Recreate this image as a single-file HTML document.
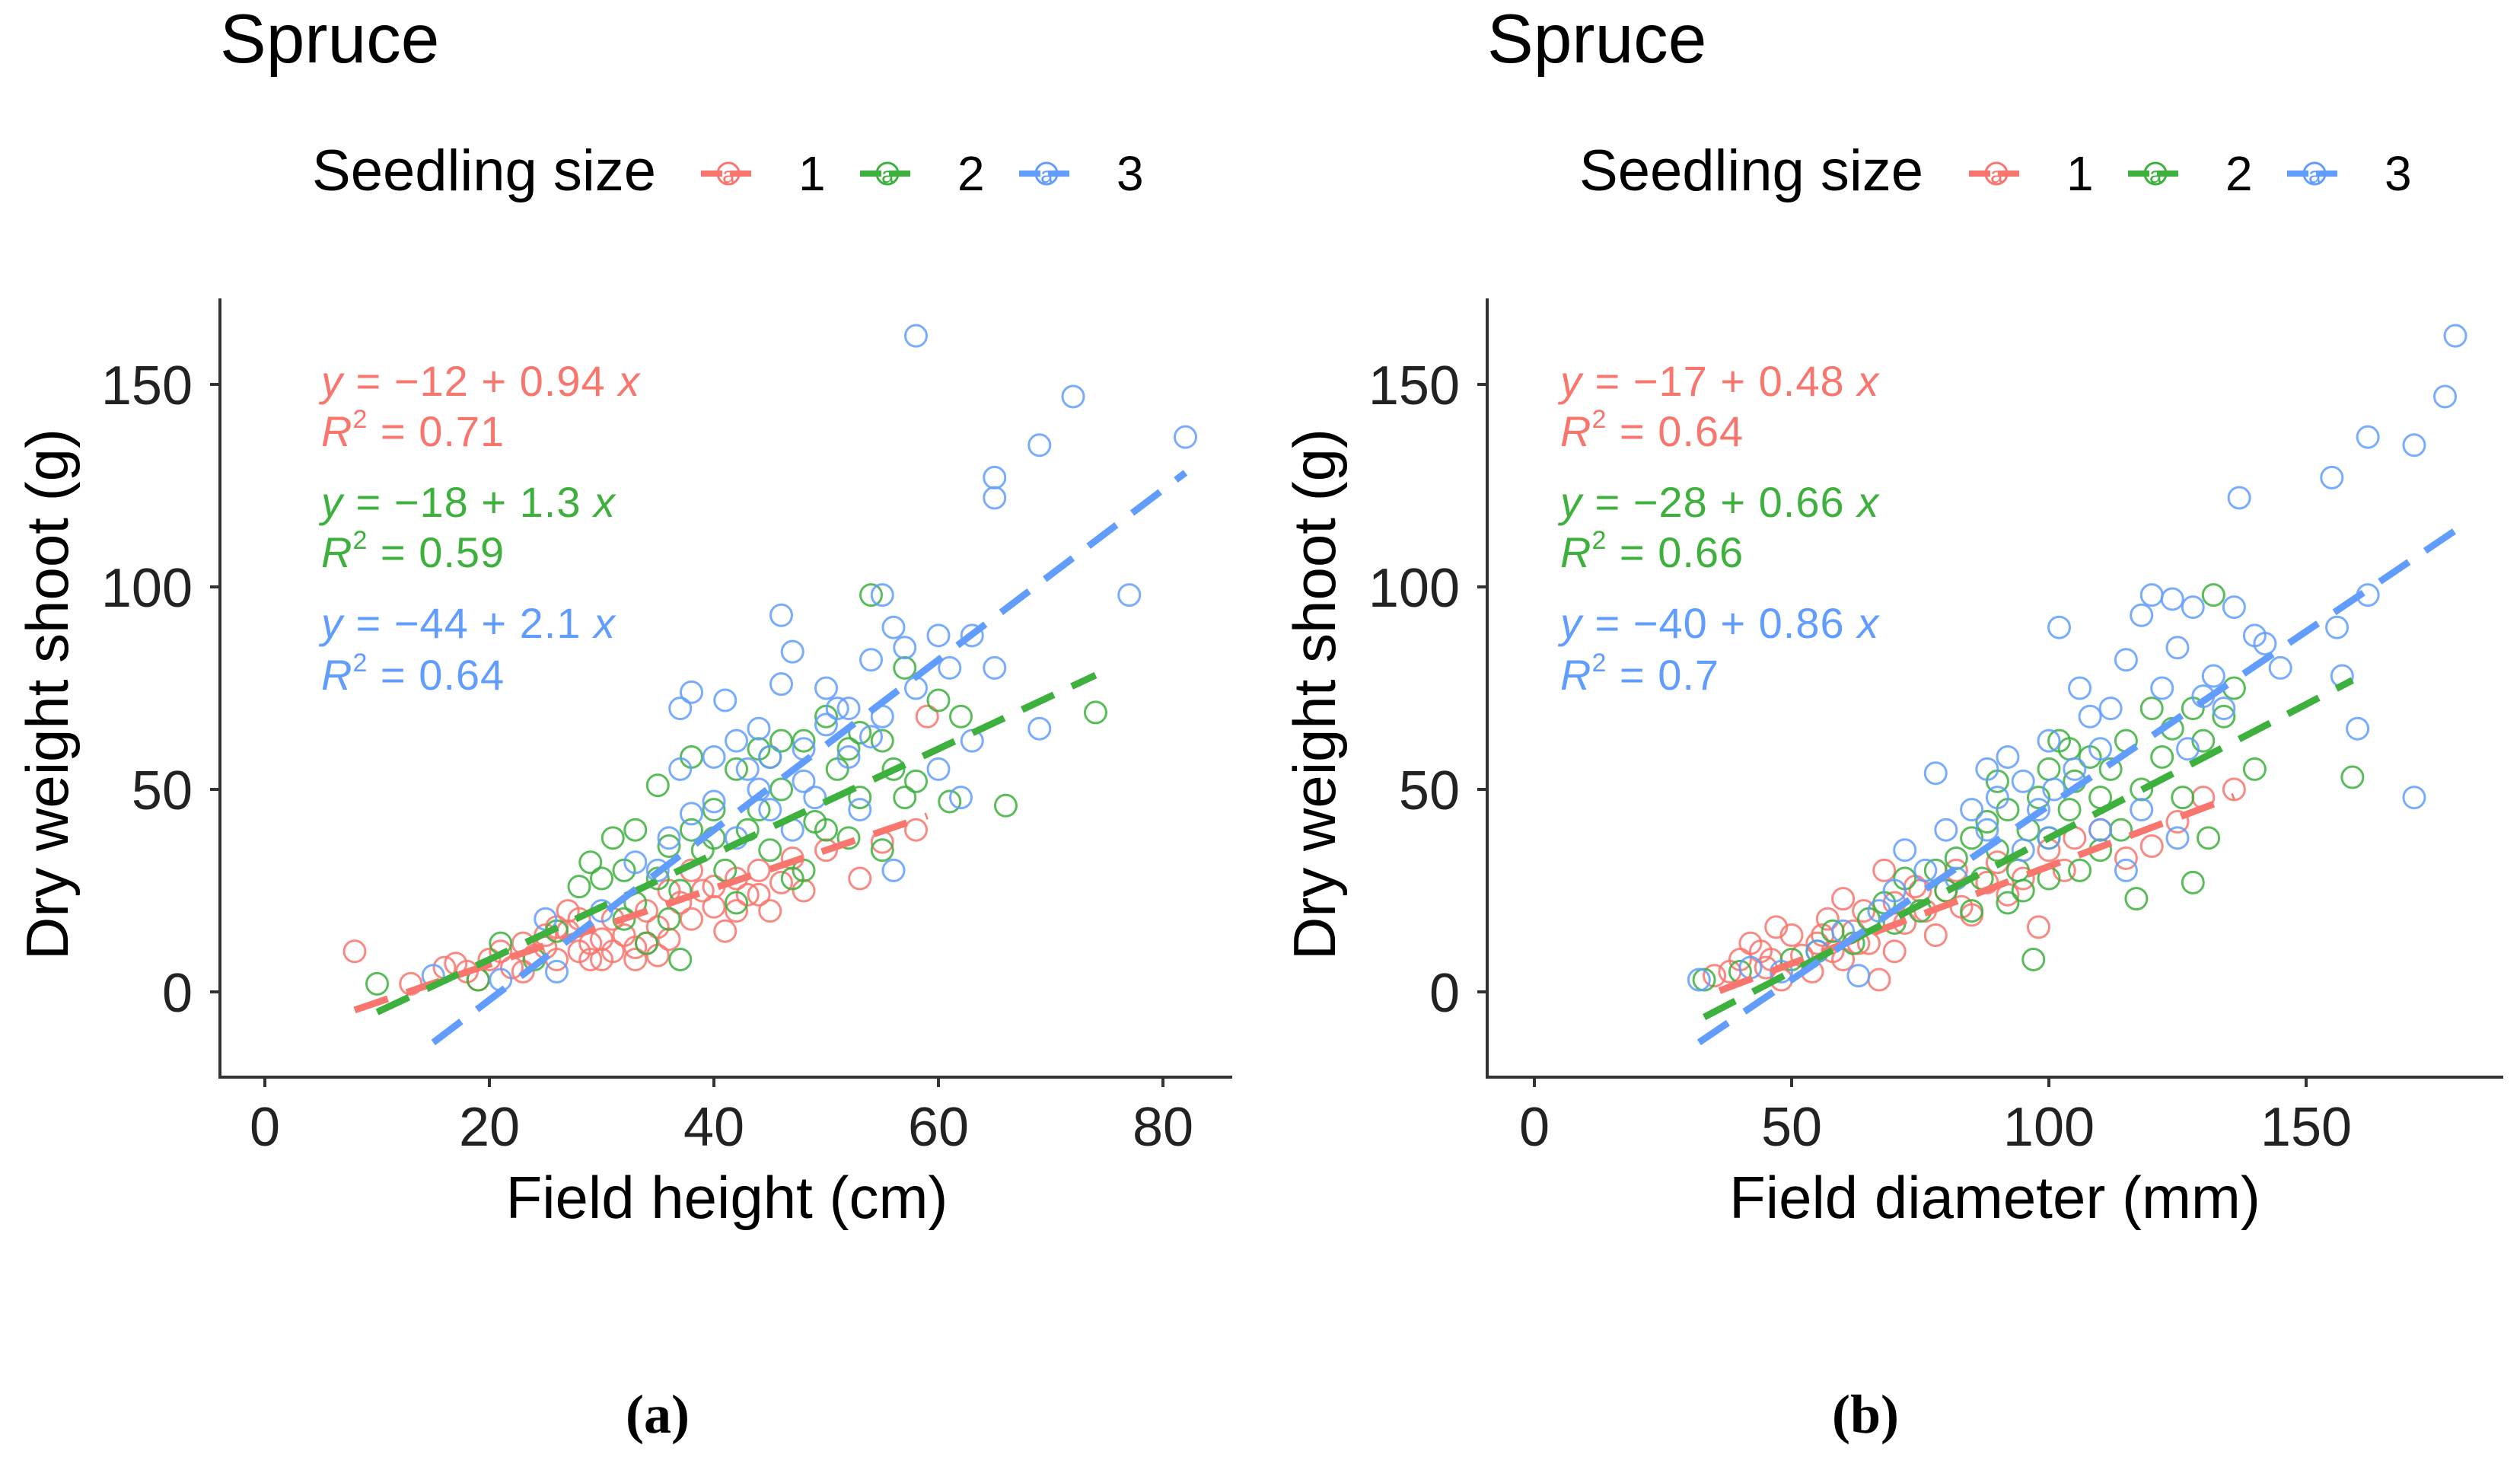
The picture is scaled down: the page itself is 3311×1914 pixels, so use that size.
<!DOCTYPE html>
<html><head><meta charset="utf-8"><style>
html,body{margin:0;padding:0;background:#fff;}
svg{display:block;font-family:"Liberation Sans",sans-serif;}
</style></head><body>
<svg id="chart" width="3311" height="1914" viewBox="0 0 3311 1914" xmlns="http://www.w3.org/2000/svg"></svg>
<script>
// Panel A data (field height cm vs dry weight g)
const aRedX=[8,13,16,17,18,19,20,21,22,23,24,25,26,27,28,29,30,31,32,33,34,35,36,37,38,39,40,41,42,43,44,45,46,47,48,50,53,55,58,59,33,29,31,25,27,36,38,42,44,30,34,26,23,28,40,35];
const aRedY=[10,2,6,7,5,3,8,10,6,12,9,14,8,15,10,12,8,18,14,11,20,16,13,22,18,25,21,15,28,24,30,20,27,33,25,35,28,37,40,68,8,8,10,11,20,25,30,20,24,13,12,16,5,18,26,9];
const aGreenX=[10,19,21,24,28,29,30,31,32,33,34,35,35,36,37,37,38,38,40,41,42,42,43,44,45,46,47,48,49,50,51,52,53,54,55,55,56,57,57,58,60,61,62,66,74,44,39,46,50,52,32,36,48,40,26,33,45,53];
const aGreenY=[2,3,12,8,26,32,28,38,30,22,12,28,51,36,8,25,40,58,45,30,22,55,40,60,35,50,28,62,42,68,55,38,48,98,35,62,55,80,48,52,72,47,68,46,69,45,35,62,40,60,18,18,30,38,15,40,58,64];
const aBlueX=[15,21,25,26,30,33,36,37,37,38,40,41,42,43,44,44,45,46,46,47,48,49,50,50,51,52,53,54,55,56,56,57,58,58,60,61,62,63,63,65,65,65,69,69,72,77,82,42,45,48,40,52,54,47,38,35,55,60];
const aBlueY=[4,3,18,5,20,32,38,55,70,74,47,72,62,55,50,65,58,93,76,84,60,48,75,66,70,58,45,63,98,30,90,85,162,75,88,80,48,88,62,127,122,80,135,65,147,98,137,38,45,52,58,70,82,40,44,30,68,55];
// Panel B data (field diameter mm vs dry weight g)
const bRedX=[35,38,40,42,44,45,47,48,50,52,54,55,57,58,60,62,64,65,67,68,70,72,74,76,78,80,82,85,88,90,92,95,98,100,103,105,110,115,120,125,130,136,46,56,63,70,75,83,60];
const bRedY=[4,5,8,12,10,6,16,3,14,9,5,12,18,10,23,15,20,12,3,30,22,17,26,20,14,25,30,19,27,32,24,28,16,35,30,38,40,33,36,42,48,50,8,14,12,10,25,21,8];
const bGreenX=[33,40,50,55,58,62,65,68,70,72,75,78,80,82,85,87,88,90,92,94,96,97,98,100,100,102,104,105,106,108,110,112,114,115,117,118,120,122,124,126,128,128,130,131,132,134,136,140,159,85,92,95,100,110,104,90];
const bGreenY=[3,5,8,10,15,12,18,22,17,28,20,30,25,33,38,28,42,35,45,30,40,8,48,55,38,62,45,52,30,58,48,55,40,62,23,50,70,58,65,48,27,70,62,38,98,68,75,55,53,20,22,25,28,35,60,52];
const bBlueX=[32,42,48,55,60,63,67,70,72,76,78,80,82,85,88,90,92,95,98,100,101,102,105,106,108,110,112,115,118,120,122,124,125,127,128,130,132,134,136,137,140,142,145,155,156,157,160,162,162,171,171,177,179,100,115,125,118,88,95,110];
const bBlueY=[3,6,5,10,15,4,20,25,35,30,54,40,28,45,40,48,58,52,45,62,50,90,55,75,68,60,70,82,93,98,75,97,85,60,95,73,78,70,95,122,88,86,80,127,90,78,65,98,137,135,48,147,162,38,30,38,45,55,35,40];
const xTicksA=[0,20,40,60,80];
const xTicksB=[0,50,100,150];
const yTicks=[0,50,100,150];
// regression fits: intercept, slope, xmin, xmax
const fitA=[[-12,0.94,8,59],[-18,1.3,10,74],[-44,2.1,15,82]];
const fitB=[[-17,0.48,36,136],[-28,0.66,33,159],[-40,0.86,32,179]];
const eqA=[["−12","0.94","0.71"],["−18","1.3","0.59"],["−44","2.1","0.64"]];
const eqB=[["−17","0.48","0.64"],["−28","0.66","0.66"],["−40","0.86","0.7"]];

const NS="http://www.w3.org/2000/svg";
const svg=document.getElementById('chart');
const cols=["#F8766D","#3DB03D","#619CFF"];
function mk(tag,attrs,parent,text){const e=document.createElementNS(NS,tag);for(const k in attrs)e.setAttribute(k,attrs[k]);if(text!==undefined)e.textContent=text;(parent||svg).appendChild(e);return e;}

function panel(P){
  const g=mk('g',{});
  
  
  const sx=v=>P.x0+v*P.kx, sy=v=>1303-v*5.32;
  const t=mk('text',{x:P.axL,y:82,'font-size':91,fill:'#000'},g,'Spruce');
  
  
  const lt=mk('text',{x:P.axL+121,y:250,'font-size':76,fill:'#000'},g,'Seedling size');
  
  
  const keyC=[P.off+957,P.off+1166,P.off+1375];
  for(let i=0;i<3;i++){
    const lg=mk('g',{},g);
    
    
    mk('line',{x1:keyC[i]-36,x2:keyC[i]+36,y1:228,y2:228,stroke:cols[i],'stroke-width':8,'stroke-dasharray':'28 10'},lg);
    mk('circle',{cx:keyC[i],cy:228,r:14,fill:'none',stroke:cols[i],'stroke-width':3},lg);
    mk('text',{x:keyC[i]-8,y:240,'font-size':30,fill:cols[i]},lg,'a');
    mk('text',{x:keyC[i]+92,y:250,'font-size':64,fill:'#000'},lg,String(i+1));
  }
  const ax=mk('g',{},g);
  
  
  mk('line',{x1:P.axL,x2:P.axL,y1:392,y2:1417,stroke:'#333',"stroke-width":4},ax);
  mk('line',{x1:P.axL-2,x2:P.axR,y1:1415,y2:1415,stroke:'#333',"stroke-width":4},ax);
  P.xt.forEach(v=>{
    mk('line',{x1:sx(v),x2:sx(v),y1:1415,y2:1428,stroke:'#333','stroke-width':4},ax);
    const tl=mk('text',{x:sx(v),y:1505,'font-size':72,fill:'#222','text-anchor':'middle'},ax,String(v));
    
    
  });
  yTicks.forEach(v=>{
    mk('line',{x1:P.axL-13,x2:P.axL,y1:sy(v),y2:sy(v),stroke:'#333','stroke-width':4},ax);
    const tl=mk('text',{x:P.axL-36,y:sy(v)+26,'font-size':72,fill:'#222','text-anchor':'end'},ax,String(v));
    
    
  });
  const xt=mk('text',{x:P.xtc,y:1600,'font-size':78,fill:'#000','text-anchor':'middle'},g,P.xlab);
  
  
  const yt=mk('text',{x:0,y:0,'font-size':78,fill:'#000','text-anchor':'middle',transform:`translate(${P.axL-200},912) rotate(-90)`},g,'Dry weight shoot (g)');
  
  
  for(let i=0;i<3;i++){
    const pg=mk('g',{},g);
    
    
    const X=P.data[i][0],Y=P.data[i][1];
    for(let j=0;j<X.length;j++){
      const c=mk('circle',{cx:sx(X[j]),cy:sy(Y[j]),r:14,fill:'none',stroke:cols[i],'stroke-width':3,'stroke-opacity':0.85},pg);
      
      
    }
  }
  for(let i=0;i<3;i++){
    const f=P.fit[i];
    const l=mk('line',{x1:sx(f[2]),y1:sy(f[0]+f[1]*f[2]),x2:sx(f[3]),y2:sy(f[0]+f[1]*f[3]),stroke:cols[i],'stroke-width':9,'stroke-dasharray':'46 26'},g);
    
    
  }
  const ys=[[520,586],[679,745],[838,906]];
  for(let i=0;i<3;i++){
    const e=P.eq[i];
    const t1=mk('text',{x:P.eqx,y:ys[i][0],'font-size':56,fill:cols[i],'letter-spacing':1},g);
    
    
    mk('tspan',{'font-style':'italic'},t1,'y');
    mk('tspan',{},t1,' = '+e[0]+' + '+e[1]+' ');
    mk('tspan',{'font-style':'italic'},t1,'x');
    const t2=mk('text',{x:P.eqx,y:ys[i][1],'font-size':56,fill:cols[i],'letter-spacing':1},g);
    
    
    mk('tspan',{'font-style':'italic'},t2,'R');
    mk('tspan',{'font-size':34,dy:-24},t2,'2');
    mk('tspan',{dy:24},t2,' = '+e[2]);
  }
  const cap=mk('text',{x:P.capx,y:1882,'font-size':72,'font-weight':'bold','font-family':'"Liberation Serif",serif','text-anchor':'middle',fill:'#000'},g,P.cap);
  
  
}
panel({id:'panel-a',off:0,axL:289,axR:1619,x0:348,kx:14.75,xt:xTicksA,xtc:955,xlab:'Field height (cm)',
  data:[[aRedX,aRedY],[aGreenX,aGreenY],[aBlueX,aBlueY]],fit:fitA,eq:eqA,eqx:422,capx:864,cap:'(a)'});
panel({id:'panel-b',off:1666,axL:1954,axR:3289,x0:2016,kx:6.76,xt:xTicksB,xtc:2621,xlab:'Field diameter (mm)',
  data:[[bRedX,bRedY],[bGreenX,bGreenY],[bBlueX,bBlueY]],fit:fitB,eq:eqB,eqx:2050,capx:2451,cap:'(b)'});
</script>
</body></html>
